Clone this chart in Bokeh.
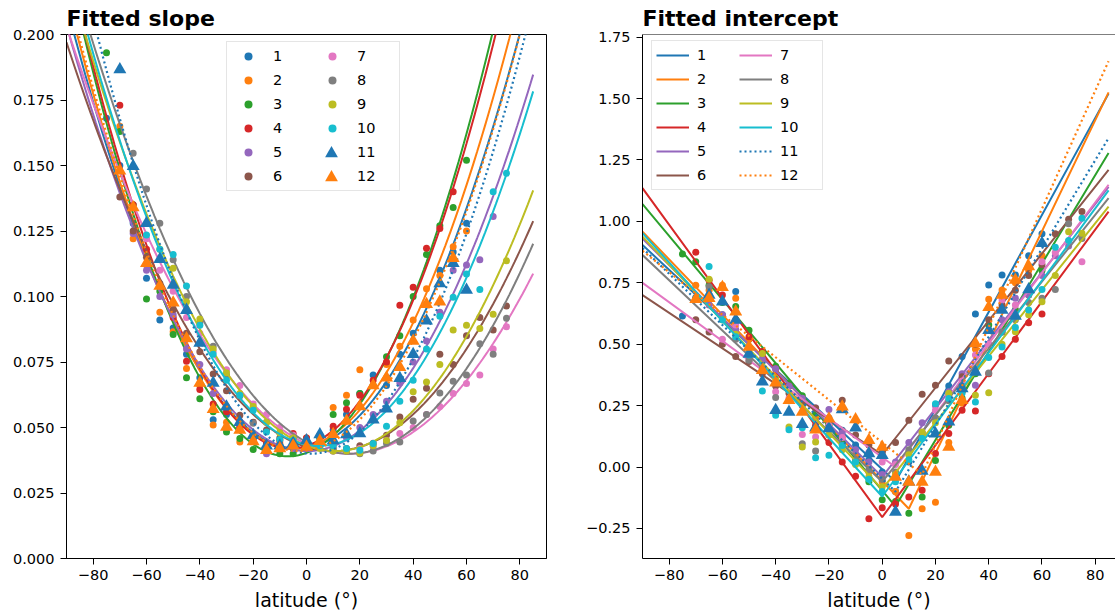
import numpy as np
from bokeh.plotting import figure
from bokeh.layouts import row
from bokeh.models import Legend, LegendItem, FixedTicker, CustomJSTickFormatter, Span
from bokeh.embed import file_html
from bokeh.resources import INLINE

# ---------------- data ----------------
series_names = ["1", "2", "3", "4", "5", "6", "7", "8", "9", "10", "11", "12"]
colors = ["#1f77b4", "#ff7f0e", "#2ca02c", "#d62728", "#9467bd", "#8c564b",
          "#e377c2", "#7f7f7f", "#bcbd22", "#17becf", "#1f77b4", "#ff7f0e"]

# Fitted slope: observed points (latitude start/end, step 5 deg)
slope_lat_range = [(-75, 60), (-70, 60), (-75, 60), (-70, 55), (-65, 70), (-70, 75),
                   (-60, 75), (-65, 75), (-55, 75), (-60, 75), (-70, 60), (-70, 55)]
slope_1 = [0.168, 0.150, 0.128, 0.107, 0.091, 0.088, 0.078, 0.069, 0.053, 0.055, 0.050, 0.046, 0.044, 0.043,
           0.044, 0.045, 0.046, 0.049, 0.055, 0.063, 0.070, 0.066, 0.078, 0.086, 0.097, 0.110, 0.117, 0.128]
slope_2 = [0.165, 0.122, 0.112, 0.094, 0.0865, 0.0725, 0.066, 0.051, 0.052, 0.0445, 0.045, 0.043, 0.044, 0.045,
           0.046, 0.047, 0.0576, 0.0623, 0.072, 0.066, 0.074, 0.081, 0.091, 0.103, 0.108, 0.119, 0.125]
slope_3 = [0.193, 0.163, 0.135, 0.099, 0.102, 0.0855, 0.069, 0.061, 0.056, 0.0483, 0.0458, 0.0416, 0.041, 0.040,
           0.040, 0.042, 0.046, 0.055, 0.0594, 0.063, 0.066, 0.077, 0.085, 0.100, 0.116, 0.127, 0.134, 0.152]
slope_4 = [0.173, 0.135, 0.118, 0.104, 0.092, 0.0753, 0.0645, 0.059, 0.056, 0.050, 0.046, 0.044, 0.045, 0.0477,
           0.046, 0.047, 0.0505, 0.057, 0.0623, 0.068, 0.075, 0.0967, 0.1035, 0.1184, 0.126, 0.140]
slope_5 = [0.124, 0.110, 0.100, 0.093, 0.080, 0.074, 0.063, 0.058, 0.052, 0.047, 0.040, 0.043, 0.042, 0.043,
           0.044, 0.043, 0.046, 0.050, 0.055, 0.060, 0.067, 0.075, 0.083, 0.094, 0.110, 0.112, 0.114, 0.1305]
slope_6 = [0.138, 0.125, 0.115, 0.105, 0.095, 0.086, 0.0789, 0.0704, 0.064, 0.0547, 0.052, 0.049, 0.046, 0.045,
           0.044, 0.043, 0.042, 0.042, 0.043, 0.044, 0.047, 0.054, 0.0608, 0.065, 0.078, 0.074, 0.085, 0.092,
           0.0872, 0.0964]
slope_7 = [0.122, 0.110, 0.102, 0.092, 0.086, 0.079, 0.072, 0.066, 0.059, 0.055, 0.050, 0.047, 0.044, 0.043,
           0.041, 0.041, 0.042, 0.0428, 0.045, 0.0477, 0.050, 0.055, 0.058, 0.063, 0.0668, 0.070, 0.080, 0.0885]
slope_8 = [0.1547, 0.141, 0.128, 0.114, 0.100, 0.090, 0.081, 0.070, 0.062, 0.0516, 0.052, 0.048, 0.046, 0.045,
           0.043, 0.041, 0.041, 0.040, 0.041, 0.044, 0.0445, 0.0525, 0.055, 0.0632, 0.0677, 0.070, 0.082, 0.078,
           0.0917]
slope_9 = [0.118, 0.1108, 0.098, 0.0914, 0.080, 0.0709, 0.063, 0.058, 0.052, 0.048, 0.046, 0.044, 0.042, 0.041,
           0.041, 0.0403, 0.043, 0.045, 0.0518, 0.0636, 0.0674, 0.074, 0.0872, 0.089, 0.0878, 0.0932, 0.1136]
slope_10 = [0.1235, 0.118, 0.116, 0.104, 0.089, 0.078, 0.068, 0.0623, 0.0566, 0.0483, 0.0454, 0.045, 0.044, 0.043,
            0.043, 0.042, 0.0413, 0.0439, 0.0505, 0.060, 0.068, 0.080, 0.0925, 0.0997, 0.1086, 0.1027, 0.140, 0.147]
slope_11 = [0.1866, 0.1497, 0.128, 0.1142, 0.1044, 0.0948, 0.0823, 0.067, 0.0579, 0.052, 0.047, 0.043, 0.043,
            0.044, 0.045, 0.0473, 0.045, 0.0473, 0.0477, 0.053, 0.0572, 0.0688, 0.078, 0.0907, 0.105, 0.1127, 0.1025]
slope_12 = [0.148, 0.134, 0.1127, 0.104, 0.0976, 0.084, 0.067, 0.057, 0.0502, 0.049, 0.0447, 0.0413, 0.042, 0.043,
            0.0426, 0.0448, 0.0474, 0.0525, 0.058, 0.066, 0.069, 0.073, 0.083, 0.097, 0.098, 0.1146]
slope_values = [slope_1, slope_2, slope_3, slope_4, slope_5, slope_6,
                slope_7, slope_8, slope_9, slope_10, slope_11, slope_12]

# Fitted slope: quadratic fit parameters (vertex latitude, minimum, curvature)
sfit_lat0 = [-3.6, -4.8, -6.95, -6.05, 0.2, 10.0, 16.1, 16.2, 10.8, 4.6, 1.8, -2.75]
sfit_min = [0.042, 0.042, 0.039, 0.042, 0.041, 0.041, 0.040, 0.040, 0.041, 0.043, 0.040, 0.041]
sfit_curv = [2.266e-5, 2.394e-5, 2.747e-5, 2.668e-5, 1.998e-5, 1.56e-5,
             1.448e-5, 1.693e-5, 1.807e-5, 2.093e-5, 2.481e-5, 2.322e-5]

# Fitted intercept: observed points
icpt_lat_range = [(-75, 60), (-70, 60), (-75, 60), (-70, 60), (-65, 70), (-70, 75),
                  (-60, 75), (-65, 75), (-65, 75), (-65, 75), (-65, 60), (-70, 55)]
icpt_1 = [0.615, 0.69, 0.70, 0.62, 0.714, 0.52, 0.43, 0.38, 0.33, 0.27, 0.22, 0.18, 0.15, 0.09, 0.03, -0.02,
          -0.10, 0.02, 0.12, 0.20, 0.33, 0.45, 0.623, 0.741, 0.782, 0.782, 0.86, 0.95]
icpt_2 = [0.74, 0.72, 0.74, 0.687, 0.52, 0.46, 0.38, 0.33, 0.28, 0.20, 0.17, 0.12, 0.05, -0.02, -0.06, -0.10,
          -0.279, -0.17, -0.143, 0.10, 0.26, 0.48, 0.683, 0.721, 0.75, 0.80, 0.86]
icpt_3 = [0.867, 0.836, 0.74, 0.67, 0.653, 0.557, 0.47, 0.41, 0.34, 0.29, 0.22, 0.17, 0.10, 0.02, -0.06, -0.133,
          -0.14, -0.188, -0.122, 0.027, 0.17, 0.28, 0.38, 0.578, 0.55, 0.64, 0.70, 0.80]
icpt_4 = [0.874, 0.76, 0.70, 0.60, 0.530, 0.47, 0.40, 0.33, 0.25, 0.17, 0.10, 0.02, -0.038, -0.21, -0.166,
          -0.15, -0.122, -0.095, 0.055, 0.136, 0.231, 0.228, 0.38, 0.45, 0.52, 0.587, 0.623]
icpt_5 = [0.66, 0.62, 0.56, 0.49, 0.44, 0.40, 0.33, 0.28, 0.24, 0.234, 0.14, 0.07, 0.02, -0.03, 0.02, 0.10,
          0.18, 0.25, 0.306, 0.38, 0.333, 0.50, 0.60, 0.687, 0.70, 0.78, 0.86, 0.90]
icpt_6 = [0.60, 0.55, 0.50, 0.45, 0.43, 0.38, 0.33, 0.30, 0.26, 0.24, 0.20, 0.272, 0.13, 0.09, 0.06, 0.10,
          0.19, 0.296, 0.333, 0.432, 0.367, 0.50, 0.60, 0.66, 0.72, 0.78, 0.823, 0.95, 1.009, 1.04]
icpt_7 = [0.52, 0.578, 0.44, 0.40, 0.306, 0.28, 0.132, 0.122, 0.17, 0.12, 0.015, 0.06, 0.02, 0.01, 0.06, 0.14,
          0.231, 0.29, 0.35, 0.456, 0.50, 0.68, 0.66, 0.72, 0.836, 0.873, 0.92, 0.836]
icpt_8 = [0.734, 0.60, 0.52, 0.435, 0.40, 0.283, 0.27, 0.095, 0.065, 0.13, 0.09, 0.03, -0.01, -0.05, -0.02,
          0.07, 0.14, 0.20, 0.27, 0.33, 0.40, 0.383, 0.55, 0.60, 0.67, 0.687, 0.723, 0.99, 0.93]
icpt_9 = [0.764, 0.60, 0.54, 0.48, 0.462, 0.36, 0.163, 0.082, 0.102, 0.13, 0.07, 0.01, -0.04, -0.08, -0.03,
          0.05, 0.143, 0.18, 0.30, 0.32, 0.292, 0.302, 0.50, 0.551, 0.62, 0.673, 0.78, 0.958, 0.952]
icpt_10 = [0.816, 0.60, 0.53, 0.456, 0.31, 0.211, 0.152, 0.16, 0.038, 0.048, 0.088, 0.02, -0.05, -0.10, -0.06,
           0.03, 0.116, 0.258, 0.279, 0.30, 0.265, 0.446, 0.489, 0.568, 0.639, 0.723, 0.895, 0.922, 1.013]
icpt_11 = [0.70, 0.673, 0.598, 0.46, 0.347, 0.231, 0.224, 0.174, 0.16, 0.157, 0.234, 0.16, 0.055, 0.048,
           -0.183, -0.06, -0.016, 0.136, 0.184, 0.32, 0.387, 0.557, 0.639, 0.615, 0.723, 0.911]
icpt_12 = [0.683, 0.687, 0.732, 0.632, 0.489, 0.394, 0.343, 0.272, 0.224, 0.152, 0.197, 0.245, 0.193, 0.109,
           0.082, -0.041, -0.061, -0.061, -0.02, 0.082, 0.272, 0.503, 0.65, 0.70, 0.761, 0.816]
icpt_values = [icpt_1, icpt_2, icpt_3, icpt_4, icpt_5, icpt_6,
               icpt_7, icpt_8, icpt_9, icpt_10, icpt_11, icpt_12]

# Fitted intercept: piecewise-linear fits (value at -90, vertex lat, vertex value, value at 85)
ifit_left = [0.904, 0.958, 1.07, 1.135, 0.93, 0.70, 0.75, 0.863, 0.938, 0.952, 0.891, 0.88]
ifit_vlat = [5, 10, 5, 0, 0, 0, 5, 0, 0, 0, 5, 15]
ifit_vval = [-0.06, -0.17, -0.16, -0.204, -0.04, 0.05, 0.0, -0.06, -0.09, -0.12, -0.10, -0.03]
ifit_right = [1.52, 1.525, 1.278, 1.04, 1.14, 1.21, 1.149, 1.095, 1.06, 1.126, 1.339, 1.652]

slope_ticks = [0.0, 0.025, 0.05, 0.075, 0.1, 0.125, 0.15, 0.175, 0.2]
icpt_ticks = [-0.25, 0.0, 0.25, 0.5, 0.75, 1.0, 1.25, 1.5, 1.75]
lat_ticks = [-80, -60, -40, -20, 0, 20, 40, 60, 80]

FONT = "DejaVu Sans"


def fmt(decimals):
    return CustomJSTickFormatter(
        code="var s = Math.abs(tick).toFixed(%d); return (tick < -1e-9 ? '\u2212' : '') + s;" % decimals)


def style(p, ydec):
    p.xgrid.visible = False
    p.ygrid.visible = False
    p.background_fill_color = "white"
    p.border_fill_color = "white"
    for ax in p.axis:
        ax.axis_line_color = "black"
        ax.axis_line_width = 1
        ax.major_tick_line_color = "black"
        ax.minor_tick_line_color = None
        ax.major_tick_in = 0
        ax.major_tick_out = 6
        ax.major_label_text_font = FONT
        ax.major_label_text_font_size = "14.5px"
        ax.major_label_text_color = "black"
        ax.major_label_standoff = 6
        ax.axis_label_text_font = FONT
        ax.axis_label_text_font_size = "19px"
        ax.axis_label_text_font_style = "normal"
        ax.axis_label_text_color = "black"
    p.xaxis.ticker = FixedTicker(ticks=lat_ticks)
    p.xaxis.formatter = fmt(0)
    p.xaxis.axis_label = "latitude (\u00b0)"
    p.xaxis.major_label_standoff = 5
    p.xaxis.axis_label_standoff = 6
    p.yaxis.formatter = fmt(ydec)
    p.title.text_font = FONT
    p.title.text_font_size = "22px"
    p.title.text_font_style = "bold"
    p.title.align = "left"
    p.title.text_color = "black"
    p.title.offset = 0
    p.title.standoff = 7


def make_legend(items, loc, gw, lw=38):
    return Legend(items=items, location=loc, ncols=2, orientation="vertical",
                  label_text_font=FONT, label_text_font_size="14.5px", label_text_color="black",
                  glyph_width=gw, glyph_height=20, label_height=20, label_width=lw,
                  spacing=4, padding=4, margin=0, label_standoff=8,
                  border_line_color="#cccccc", border_line_width=1,
                  background_fill_color="white", background_fill_alpha=0.8)


def marker_overlay(renderer, loc):
    # a single big-marker legend entry drawn on top of the main legend slot
    return Legend(items=[LegendItem(label=" ", renderers=[renderer])], location=loc,
                  glyph_width=34, glyph_height=32, label_height=20, label_width=0,
                  spacing=0, padding=0, margin=0, label_standoff=0,
                  label_text_font_size="1px",
                  border_line_color=None, background_fill_alpha=0)


# ---------------- left: fitted slope ----------------
p1 = figure(width=556, height=614, x_range=(-90, 90), y_range=(0, 0.2),
            output_backend="svg", toolbar_location=None, title="Fitted slope",
            min_border_left=66, min_border_right=10, min_border_top=0, min_border_bottom=56)
style(p1, 3)
p1.yaxis.ticker = FixedTicker(ticks=slope_ticks)
p1.outline_line_color = "black"
p1.outline_line_width = 1

curve_x = np.linspace(-90, 85, 176)
items1 = []
tri_renderers = []
for i, name in enumerate(series_names):
    lo, hi = slope_lat_range[i]
    lat = list(range(lo, hi + 1, 5))
    vals = slope_values[i]
    if i < 10:
        r = p1.scatter(lat, vals, marker="circle", size=7, fill_color=colors[i], line_color=None)
        leg_r = r
    else:
        r = p1.scatter(lat, vals, marker="triangle", size=13, fill_color=colors[i], line_color=None)
        tri_renderers.append(r)
        # placeholder (invisible) glyph keeps the slot in the two-column legend
        leg_r = p1.scatter([], [], marker="triangle", size=13, fill_alpha=0, line_alpha=0)
    fit = sfit_min[i] + sfit_curv[i] * (curve_x - sfit_lat0[i]) ** 2
    if i < 10:
        p1.line(curve_x, fit, line_color=colors[i], line_width=2)
    else:
        p1.line(curve_x, fit, line_color=colors[i], line_width=2.2, line_dash="2 3")
    items1.append(LegendItem(label=name, renderers=[leg_r]))

p1.add_layout(make_legend(items1, (160, 367), 34))
# larger triangle markers for entries 11 and 12 (column 2, rows 5 and 6)
p1.add_layout(marker_overlay(tri_renderers[0], (248, 389)))
p1.add_layout(marker_overlay(tri_renderers[1], (248, 365)))

# ---------------- right: fitted intercept ----------------
p2 = figure(width=559, height=614, x_range=(-90, 87.6), y_range=(-0.3723, 1.7606),
            output_backend="svg", toolbar_location=None, title="Fitted intercept",
            min_border_left=86, min_border_right=0, min_border_top=0, min_border_bottom=56)
style(p2, 2)
p2.yaxis.ticker = FixedTicker(ticks=icpt_ticks)
p2.outline_line_color = None
p2.add_layout(Span(location=1.7606, dimension="width", line_color="black", line_width=1))

items2 = []
for i, name in enumerate(series_names):
    lo, hi = icpt_lat_range[i]
    lat = list(range(lo, hi + 1, 5))
    vals = icpt_values[i]
    if i < 10:
        p2.scatter(lat, vals, marker="circle", size=7, fill_color=colors[i], line_color=None)
    else:
        p2.scatter(lat, vals, marker="triangle", size=13, fill_color=colors[i], line_color=None)
    lx = [-90, ifit_vlat[i], 85]
    ly = [ifit_left[i], ifit_vval[i], ifit_right[i]]
    if i < 10:
        r = p2.line(lx, ly, line_color=colors[i], line_width=2)
    else:
        r = p2.line(lx, ly, line_color=colors[i], line_width=2.2, line_dash="2 3")
    items2.append(LegendItem(label=name, renderers=[r]))

p2.add_layout(make_legend(items2, (9, 368), 33))

layout = row(p1, p2)
open("out.html", "w").write(file_html(layout, INLINE))
